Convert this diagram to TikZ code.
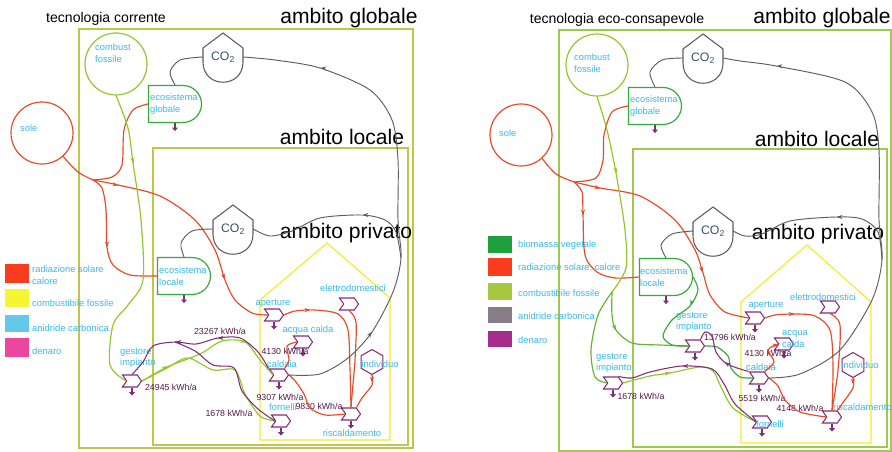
\documentclass[tikz,border=0pt]{standalone}
\usepackage{fontspec}
\setmainfont{Liberation Sans}
\usepackage{xcolor}
\usetikzlibrary{shapes.geometric, shapes.misc, shapes.symbols, arrows.meta, calc}
\definecolor{frame-olive}{RGB}{190,200,70}
\definecolor{frame-green}{RGB}{160,200,80}
\definecolor{house-yellow}{RGB}{245,235,40}
\definecolor{sun-red}{RGB}{230,75,40}
\definecolor{fuel-green}{RGB}{145,200,40}
\definecolor{mix-green}{RGB}{100,180,50}
\definecolor{bio-green}{RGB}{50,170,60}
\definecolor{money-purple}{RGB}{130,45,120}
\definecolor{co2-gray}{RGB}{95,90,100}
\definecolor{co2-text}{RGB}{55,85,95}
\definecolor{label-cyan}{RGB}{60,185,230}
\definecolor{kwh-purple}{RGB}{85,25,75}
\definecolor{leg-red}{RGB}{250,60,30}
\definecolor{leg-yellow}{RGB}{245,245,50}
\definecolor{leg-cyan}{RGB}{100,200,235}
\definecolor{leg-pink}{RGB}{235,70,160}
\definecolor{leg-green}{RGB}{30,160,60}
\definecolor{leg-ygreen}{RGB}{165,200,60}
\definecolor{leg-gray}{RGB}{135,125,135}
\definecolor{leg-purple}{RGB}{165,45,140}

\tikzset{
  every node/.style={inner sep=0pt},
  cyanlbl/.style={font=\fontsize{8}{10}\selectfont, text=label-cyan, align=left},
  legendlbl/.style={cyanlbl, anchor=west},
  bigtitle/.style={font=\fontsize{18}{18}\selectfont},
  paneltitle/.style={font=\fontsize{12}{12}\selectfont},
  kwh/.style={font=\fontsize{7.5}{8}\selectfont, text=kwh-purple},
  framebox/.style={line width=1pt},
  housebox/.style={draw=house-yellow, line width=1pt},
  source/.style={circle, line width=1pt, minimum size=1.86cm},
  ecosys/.style={rounded rectangle, rounded rectangle west arc=none, draw=bio-green, line width=1pt, minimum width=1.59cm, minimum height=1.11cm},
  tank/.style={circle, minimum size=1.2cm, font=\fontsize{10.5}{11}\selectfont, text=co2-text},
  proc/.style={signal, signal from=west, signal to=east, signal pointer angle=110, draw=money-purple, line width=0.9pt, minimum width=0.57cm, minimum height=0.36cm},
  person/.style={regular polygon, regular polygon sides=6, shape border rotate=30, draw=money-purple, line width=0.9pt, minimum size=0.75cm},
  solar/.style={draw=sun-red, line width=1pt},
  fuel/.style={draw=fuel-green, line width=1pt},
  mixfuel/.style={draw=mix-green, line width=1pt},
  bio/.style={draw=bio-green, line width=1pt},
  money/.style={draw=money-purple, line width=0.9pt},
  carbon/.style={draw=co2-gray, line width=0.8pt},
  tipstyle/.style={-{Stealth[length=4.5pt, width=3.5pt]}},
  sinkline/.style={draw=money-purple, line width=0.9pt, -{Triangle[length=3pt, width=5pt]}},
}

% CO2 storage: name, x, y
\newcommand\cotank[3]{%
  \node[tank] (#1) at (#2,#3) {CO\textsubscript{2}};
  \draw[carbon, line width=0.9pt] ($(#1)+(-20,5)$) -- ($(#1)+(-20,-9)$) -- ($(#1)+(0,-24)$) -- ($(#1)+(20,-9)$) -- ($(#1)+(20,5)$)
    .. controls ($(#1)+(20,32)$) and ($(#1)+(-20,32)$) .. ($(#1)+(-20,5)$) -- cycle;}
% heat sink under a node
\newcommand\heatsink[1]{\draw[sinkline] (#1.south) -- ++(0,8);}
% arrowhead on a flow: style, point, direction
\newcommand\flowhead[3]{\draw[#1, tipstyle] (#2) -- ++(#3);}

\begin{document}
\begin{tikzpicture}[x=0.03cm, y=-0.03cm]
  \fill[white] (0,0) rectangle (892,452);
  \useasboundingbox (0,0) rectangle (892,452);

  %% ---------------- tecnologia corrente ----------------
  \node[paneltitle] (titleL) at (106,19) {tecnologia corrente};
  \node[bigtitle] (globL) at (349,18) {ambito globale};
  \draw[framebox, draw=frame-olive] (79,29) rectangle (413,448);
  \draw[framebox, draw=frame-olive] (153,148) rectangle (408,445);
  \node[bigtitle] (locL) at (342,137) {ambito locale};
  \draw[housebox] (260,440) -- (260,300) -- (327,243) -- (390,298) -- (390,440) -- cycle;
  \node[bigtitle] (privL) at (346,233) {ambito privato};

  % Legend
  \fill[leg-red] (5,264) rectangle (29,283);
  \node[legendlbl] (legL1) at (32,275) {radiazione solare\\calore};
  \fill[leg-yellow] (5,289) rectangle (29,307);
  \node[legendlbl] (legL2) at (32,303) {combustibile fossile};
  \fill[leg-cyan] (5,315) rectangle (29,332);
  \node[legendlbl] (legL3) at (32,328) {anidride carbonica};
  \fill[leg-pink] (5,338) rectangle (29,357);
  \node[legendlbl] (legL4) at (32,351) {denaro};

  % Sources and storages
  \node[source, draw=fuel-green] (fossL) at (116,64) {};
  \node[cyanlbl, anchor=west] (fossLtxt) at (95,53) {combust\\fossile};
  \node[source, draw=sun-red] (soleL) at (42,133) {};
  \node[cyanlbl, anchor=west] (soleLtxt) at (20,128) {sole};
  \cotank{co2gL}{223}{57}
  \cotank{co2lL}{233}{229}
  \node[ecosys] (ecoGL) at (175,104) {};
  \node[cyanlbl, anchor=west] (ecoGLtxt) at (150,104) {ecosistema\\globale};
  \node[ecosys] (ecoLL) at (184,276) {};
  \node[cyanlbl, anchor=west] (ecoLLtxt) at (159,276) {ecosistema\\locale};

  % Processes
  \node[proc] (gestL) at (132,381) {};
  \node[proc] (aperL) at (274,315) {};
  \node[proc] (acquaL) at (303,342) {};
  \node[proc] (caldL) at (279,375) {};
  \node[proc] (elettL) at (349,304) {};
  \node[proc] (fornL) at (281,421) {};
  \node[proc] (riscL) at (351,414) {};
  \node[person] (indivL) at (372,362) {};
  \foreach \n in {gestL, aperL, acquaL, caldL, fornL, riscL, ecoGL, ecoLL} {\heatsink{\n}}

  \node[cyanlbl, anchor=west] (gestLtxt) at (120,358) {gestore\\impianto};
  \node[cyanlbl] (aperLtxt) at (273,303) {aperture};
  \node[cyanlbl] (acquaLtxt) at (308,330) {acqua calda};
  \node[cyanlbl] (caldLtxt) at (282,364) {caldaia};
  \node[cyanlbl] (elettLtxt) at (353,288) {elettrodomestici};
  \node[cyanlbl] (fornLtxt) at (283,407) {fornelli};
  \node[cyanlbl] (riscLtxt) at (352,433) {riscaldamento};
  \node[cyanlbl] (indivLtxt) at (380,364) {individuo};

  \node[kwh] (kwhL1) at (220,331) {23267 kWh/a};
  \node[kwh] (kwhL2) at (285,351) {4130 kWh/a};
  \node[kwh] (kwhL3) at (171,387) {24945 kWh/a};
  \node[kwh] (kwhL4) at (280,397) {9307 kWh/a};
  \node[kwh] (kwhL5) at (229,413) {1678 kWh/a};
  \node[kwh] (kwhL6) at (319,406) {9830 kWh/a};

  % Solar flows
  \coordinate (jL) at (93,180);
  \draw[solar] plot[smooth] coordinates {(soleL.-48) (78,172) (jL)};
  \draw[solar] plot[smooth] coordinates {(jL) (118,185) (160,196) (195,220) (215,250) (225,280) (235,300) (252,313) (aperL.west)};
  \draw[solar] plot[smooth] coordinates {(jL) (112,177) (122,165) (124,130) (133,110) (ecoGL.west)};
  \draw[solar] plot[smooth] coordinates {(jL) (102,188) (106,210) (107,247) (113,265) (130,275) (ecoLL.west)};
  \draw[solar] plot[smooth] coordinates {(aperL.east) (295,311) (315,310) (338,314) (348,330) (350,370) (riscL.north)};
  \draw[solar] plot[smooth] coordinates {(elettL.south) (356,322) (355,360) (352,395) (riscL.north)};
  \draw[solar] plot[smooth] coordinates {(indivL.south) (372,385) (362,398) (riscL.north east)};
  \draw[solar] plot[smooth] coordinates {(caldL.east) (296,382) (304,394) (310,408) (325,415) (riscL.west)};
  \draw[solar] plot[smooth] coordinates {(caldL.north east) (289,360) (287,346) (acquaL.west)};
  \flowhead{solar}{117,185}{1,0.2}
  \flowhead{solar}{224,278}{0.25,1}
  \flowhead{solar}{107,246}{0,1}
  \flowhead{solar}{309,310}{1,0}
  \flowhead{solar}{372,381}{0,1}

  % Fuel and money flows
  \coordinate (mergeL) at (175,342);
  \draw[fuel] plot[smooth] coordinates {(fossL.south) (128,128) (133,163) (141,220) (143,280) (128,305) (113,325) (110,365) (gestL.west)};
  \draw[fuel] plot[smooth] coordinates {(gestL.east) (167,367) (200,354) (222,341) (245,342) (260,360) (caldL.west)};
  \draw[fuel] plot[smooth] coordinates {(gestL.east) (167,368) (188,358) (213,370) (235,370) (245,394) (260,416) (fornL.west)};
  \draw[money] plot[smooth] coordinates {(caldL.north west) (258,352) (240,338) (218,338) (196,344) (mergeL) (153,346) (143,362) (gestL.north)};
  \draw[money] plot[smooth] coordinates {(fornL.west) (258,409) (242,391) (234,368) (213,365) (195,351) (mergeL)};
  \flowhead{fuel}{133,162}{0.12,1}
  \flowhead{fuel}{166,367}{1,-0.45}
  \flowhead{fuel}{245,342}{1,0.35}
  \flowhead{money}{219,338}{-1,0}
  \flowhead{money}{177,342}{-1,0}

  % Carbon flows
  \coordinate (splitL) at (401,258);
  \draw[carbon] plot[smooth] coordinates {(ecoGL.north) (170,72) (180,60) (co2gL.west)};
  \draw[carbon] plot[smooth] coordinates {(caldL.east) (320,374) (348,358) (372,332) (393,292) (splitL) (398,220) (398,160) (392,120) (370,90) (320,68) (275,60) (co2gL.east)};
  \draw[carbon] plot[smooth] coordinates {(splitL) (396,232) (385,220) (362,215) (320,218) (292,231) (270,236) (co2lL.east)};
  \draw[carbon] plot[smooth] coordinates {(ecoLL.north) (181,243) (192,231) (co2lL.west)};
  \flowhead{carbon}{371,333}{0.7,-1}
  \flowhead{carbon}{322,68}{-1,-0.15}
  \flowhead{carbon}{364,215}{-1,0}

  %% ---------------- tecnologia eco-consapevole ----------------
  \node[paneltitle] (titleR) at (617,20) {tecnologia eco-consapevole};
  \node[bigtitle] (globR) at (822,18) {ambito globale};
  \draw[framebox, draw=frame-green] (559,30) rectangle (891,451);
  \draw[framebox, draw=frame-green] (633,149) rectangle (887,447);
  \node[bigtitle] (locR) at (817,139) {ambito locale};
  \draw[housebox] (741,443) -- (741,302) -- (807,245) -- (871,302) -- (871,443) -- cycle;
  \node[bigtitle] (privR) at (818,234) {ambito privato};

  % Legend
  \fill[leg-green] (488,236) rectangle (512,253);
  \node[legendlbl] (legR1) at (518,245) {biomassa vegetale};
  \fill[leg-red] (488,258) rectangle (512,276);
  \node[legendlbl] (legR2) at (518,268) {radiazione solare, calore};
  \fill[leg-ygreen] (488,283) rectangle (512,300);
  \node[legendlbl] (legR3) at (518,293) {combustibile fossile};
  \fill[leg-gray] (488,307) rectangle (512,323);
  \node[legendlbl] (legR4) at (518,316) {anidride carbonica};
  \fill[leg-purple] (488,331) rectangle (512,347);
  \node[legendlbl] (legR5) at (518,340) {denaro};

  % Sources and storages
  \node[source, draw=fuel-green] (fossR) at (597,65) {};
  \node[cyanlbl, anchor=west] (fossRtxt) at (574,63) {combust\\fossile};
  \node[source, draw=sun-red] (soleR) at (521,135) {};
  \node[cyanlbl, anchor=west] (soleRtxt) at (499,133) {sole};
  \cotank{co2gR}{703}{58}
  \cotank{co2lR}{713}{231}
  \node[ecosys] (ecoGR) at (655,106) {};
  \node[cyanlbl, anchor=west] (ecoGRtxt) at (630,106) {ecosistema\\globale};
  \node[ecosys] (ecoLR) at (666,277) {};
  \node[cyanlbl, anchor=west] (ecoLRtxt) at (640,277) {ecosistema\\locale};

  % Processes
  \node[proc] (gest1R) at (613,383) {};
  \node[proc] (gest2R) at (695,346) {};
  \node[proc] (aperR) at (755,318) {};
  \node[proc] (acquaR) at (784,344) {};
  \node[proc] (caldR) at (759,378) {};
  \node[proc] (elettR) at (830,307) {};
  \node[proc] (fornR) at (762,422) {};
  \node[proc] (riscR) at (832,417) {};
  \node[person] (indivR) at (853,365) {};
  \foreach \n in {gest1R, gest2R, aperR, acquaR, caldR, fornR, riscR, ecoGR, ecoLR} {\heatsink{\n}}

  \node[cyanlbl, anchor=west] (gest1Rtxt) at (596,363) {gestore\\impianto};
  \node[cyanlbl, anchor=west] (gest2Rtxt) at (676,322) {gestore\\impianto};
  \node[cyanlbl] (aperRtxt) at (766,305) {aperture};
  \node[cyanlbl, anchor=west] (acquaRtxt) at (782,339) {acqua\\calda};
  \node[cyanlbl] (caldRtxt) at (761,367) {caldaia};
  \node[cyanlbl] (elettRtxt) at (823,297) {elettrodomestici};
  \node[cyanlbl] (fornRtxt) at (770,424) {fornelli};
  \node[cyanlbl, anchor=west] (riscRtxt) at (833,407) {riscaldamento};
  \node[cyanlbl] (indivRtxt) at (860,365) {individuo};

  \node[kwh] (kwhR1) at (730,337) {13796 kWh/a};
  \node[kwh] (kwhR2) at (768,353) {4130 kWh/a};
  \node[kwh] (kwhR3) at (762,398) {5519 kWh/a};
  \node[kwh] (kwhR4) at (800,408) {4148 kWh/a};
  \node[kwh] (kwhR5) at (641,396) {1678 kWh/a};

  % Solar flows
  \coordinate (jR) at (574,182);
  \draw[solar] plot[smooth] coordinates {(soleR.-48) (556,174) (jR)};
  \draw[solar] plot[smooth] coordinates {(jR) (600,188) (640,196) (675,220) (695,250) (703,273) (710,295) (725,312) (aperR.west)};
  \draw[solar] plot[smooth] coordinates {(jR) (596,178) (603,160) (604,135) (612,112) (ecoGR.west)};
  \draw[solar] plot[smooth] coordinates {(jR) (582,192) (583,215) (585,255) (597,272) (615,278) (ecoLR.west)};
  \draw[solar] plot[smooth] coordinates {(aperR.east) (775,315) (794,314) (815,316) (830,330) (833,365) (riscR.north)};
  \draw[solar] plot[smooth] coordinates {(elettR.south) (840,325) (838,370) (riscR.north)};
  \draw[solar] plot[smooth] coordinates {(indivR.south) (853,388) (842,404) (riscR.north east)};
  \draw[solar] plot[smooth] coordinates {(caldR.east) (778,386) (785,400) (800,412) (riscR.west)};
  \draw[solar, tipstyle] plot[smooth] coordinates {(caldR.north east) (774,362) (768,350) (acquaR.west)};
  \flowhead{solar}{599,188}{1,0.2}
  \flowhead{solar}{702,271}{0.25,1}
  \flowhead{solar}{583,214}{0,1}
  \flowhead{solar}{793,314}{1,0}
  \flowhead{solar}{853,383}{0,1}

  % Fuel, biomass and money flows
  \coordinate (kR) at (612,292);
  \draw[fuel] plot[smooth] coordinates {(fossR.south) (607,130) (616,173) (625,230) (626,268) (kR)};
  \draw[mixfuel] plot[smooth] coordinates {(kR) (598,315) (591,350) (595,377) (gest1R.west)};
  \draw[mixfuel] plot[smooth] coordinates {(kR) (612,315) (616,330) (632,343) (660,345) (gest2R.west)};
  \draw[bio] plot[smooth] coordinates {(ecoLR.east) (698,290) (690,306) (672,320) (663,336) (672,345) (gest2R.west)};
  \draw[bio] plot[smooth] coordinates {(gest2R.east) (717,347) (728,356) (731,368) (740,377) (caldR.west)};
  \draw[money] plot[smooth] coordinates {(caldR.north west) (727,364) (716,352) (712,336) (705,332) (gest2R.north east)};
  \draw[fuel] plot[smooth] coordinates {(gest1R.east) (650,376) (670,373) (700,367) (713,371) (721,387) (733,408) (fornR.west)};
  \draw[money] plot[smooth] coordinates {(fornR.west) (735,404) (724,384) (712,369) (682,366) (650,372) (632,378) (gest1R.north east)};
  \flowhead{fuel}{616,172}{0.15,1}
  \flowhead{mixfuel}{615,329}{0.3,1}
  \flowhead{bio}{691,304}{-0.3,1}
  \flowhead{money}{726,363}{-1,-0.7}
  \flowhead{fuel}{669,373}{1,-0.15}
  \flowhead{money}{684,366}{-1,0}

  % Carbon flows
  \coordinate (splitR) at (882,260);
  \draw[carbon] plot[smooth] coordinates {(ecoGR.north) (650,72) (662,60) (co2gR.west)};
  \draw[carbon] plot[smooth] coordinates {(caldR.east) (800,374) (840,350) (872,300) (splitR) (879,220) (879,150) (872,112) (845,82) (776,66) (740,61) (co2gR.east)};
  \draw[carbon] plot[smooth] coordinates {(splitR) (878,232) (862,219) (836,217) (790,221) (762,234) (745,236) (co2lR.east)};
  \draw[carbon] plot[smooth] coordinates {(ecoLR.north) (661,245) (672,234) (co2lR.west)};
  \flowhead{carbon}{778,66}{-1,-0.05}
  \flowhead{carbon}{838,217}{-1,0}
\end{tikzpicture}
\end{document}
